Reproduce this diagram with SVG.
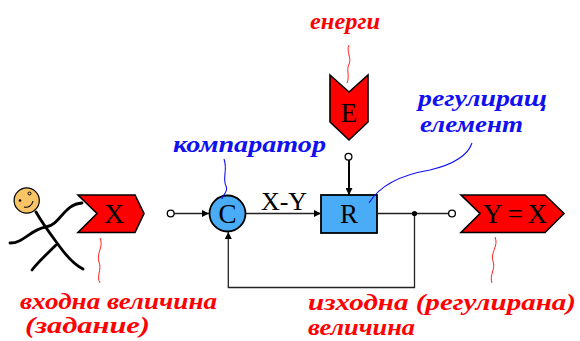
<svg xmlns="http://www.w3.org/2000/svg" width="580" height="341" viewBox="0 0 580 341">
  <defs>
    <style>
      .tag { fill: #ff0000; stroke: #000; stroke-width: 1.6; stroke-linejoin: miter; }
      .blk { fill: #4aacf7; stroke: #000; stroke-width: 1.8; }
      .sym { font-family: "Liberation Serif", "Times New Roman", serif; fill: #000; text-anchor: middle; }
      .wire { fill: none; stroke: #222; stroke-width: 1.3; }
      .term { fill: #fff; stroke: #000; stroke-width: 1.3; }
      .note { font-family: "Liberation Serif", "Times New Roman", serif; font-style: italic; font-weight: bold; font-size: 24px; }
      .red { fill: #ff0000; }
      .blue { fill: #1010f0; }
      .lead-red { fill: none; stroke: #ff2020; stroke-width: 1; }
      .lead-blue { fill: none; stroke: #1010f0; stroke-width: 1.1; }
      .man { fill: none; stroke: #000; stroke-width: 2.8; stroke-linecap: round; }
    </style>
    <marker id="arr" viewBox="0 0 10 10" refX="10" refY="5" markerWidth="7" markerHeight="7" markerUnits="userSpaceOnUse" orient="auto">
      <path d="M0,0 L10,5 L0,10 z" fill="#000"/>
    </marker>
  </defs>

  <!-- stick figure holding the input value -->
  <g id="person">
    <path class="man" d="M10,243 C24,243 31,229 46,227 C60,225 64,204 82,203"/>
    <path class="man" d="M36,212 C44,226 52,236 60,247 C68,258 75,265 83,269"/>
    <path class="man" d="M32,270 C38,262 47,254 56,245"/>
    <circle cx="26.7" cy="200.5" r="12.6" fill="#f8c465" stroke="#000" stroke-width="1.2"/>
    <circle cx="20" cy="200.5" r="1.3" fill="#000"/>
    <circle cx="29.5" cy="193.5" r="1.5" fill="none" stroke="#000" stroke-width="1"/>
    <path d="M24,207 C28,208 32,206 33,201" fill="none" stroke="#000" stroke-width="1.1"/>
  </g>

  <!-- input tag X -->
  <g id="input-x">
    <polygon class="tag" points="78,195 135,195 144,213.5 135,232.5 78,232.5 97,213.5"/>
    <text class="sym" x="114" y="223" font-size="28">X</text>
  </g>

  <!-- energy tag E -->
  <g id="energy-e">
    <polygon class="tag" points="330,75 349,92 368,75 368,122 349,140 330,122"/>
    <text class="sym" x="349" y="121.5" font-size="27">E</text>
  </g>

  <!-- comparator -->
  <g id="comparator">
    <circle class="blk" cx="227.5" cy="213.5" r="18"/>
    <text class="sym" x="227.5" y="223" font-size="27">C</text>
  </g>

  <!-- regulating element -->
  <g id="regulator">
    <rect class="blk" x="321" y="195" width="56" height="38"/>
    <text class="sym" x="349" y="223" font-size="27">R</text>
  </g>

  <!-- output tag Y=X -->
  <g id="output-y">
    <polygon class="tag" points="461,195 545,195 564,213.5 545,232.5 461,232.5 480,213.5"/>
    <text class="sym" x="515" y="222.5" font-size="27" textLength="64" lengthAdjust="spacing">Y=X</text>
  </g>

  <!-- signal lines -->
  <g id="connectors">
    <path class="wire" d="M174,213.5 H209" marker-end="url(#arr)"/>
    <path class="wire" d="M245.5,213.5 H321" marker-end="url(#arr)"/>
    <path class="wire" d="M377,213.5 H448.5"/>
    <path class="wire" d="M414.5,213.5 V287.5 H228.3 V232" marker-end="url(#arr)"/>
    <path d="M349,160 V195" fill="none" stroke="#000" stroke-width="2" marker-end="url(#arr)"/>
    <circle cx="414.5" cy="213.5" r="2.6" fill="#000"/>
    <circle class="term" cx="170.7" cy="213.5" r="3.4"/>
    <circle class="term" cx="452" cy="213.5" r="3.4"/>
    <circle class="term" cx="348.5" cy="156.8" r="3.4"/>
  </g>
  <text class="sym" x="284" y="210" font-size="26">X-Y</text>

  <!-- label leaders -->
  <g id="leaders">
    <path class="lead-red" d="M349,45 C346,52 352,58 349,64 C346,70 350,76 347,83"/>
    <path class="lead-red" d="M100,238 C104,247 96,253 99,262 C102,270 96,276 100,283"/>
    <path class="lead-red" d="M495,237 C499,246 490,253 493,261 C496,269 489,275 492,283"/>
    <path class="lead-blue" d="M224,159 C228,170 222,178 226,186 C229,192 222,195 222,199"/>
    <path class="lead-blue" d="M369,203 C380,185 400,175 430,170 C455,164 468,155 472,143"/>
  </g>

  <!-- labels -->
  <text class="note red" x="310" y="29" textLength="70" lengthAdjust="spacingAndGlyphs">енерги</text>
  <text class="note blue" x="418" y="106" textLength="129" lengthAdjust="spacingAndGlyphs">регулиращ</text>
  <text class="note blue" x="420" y="132" textLength="103" lengthAdjust="spacingAndGlyphs">елемент</text>
  <text class="note blue" x="173" y="152" textLength="153" lengthAdjust="spacingAndGlyphs">компаратор</text>
  <text class="note red" x="20" y="309" textLength="197" lengthAdjust="spacingAndGlyphs">входна величина</text>
  <text class="note red" x="25" y="333" textLength="125" lengthAdjust="spacingAndGlyphs">(задание)</text>
  <text class="note red" x="308" y="310" textLength="268" lengthAdjust="spacingAndGlyphs">изходна (регулирана)</text>
  <text class="note red" x="308" y="335" textLength="107" lengthAdjust="spacingAndGlyphs">величина</text>
</svg>
